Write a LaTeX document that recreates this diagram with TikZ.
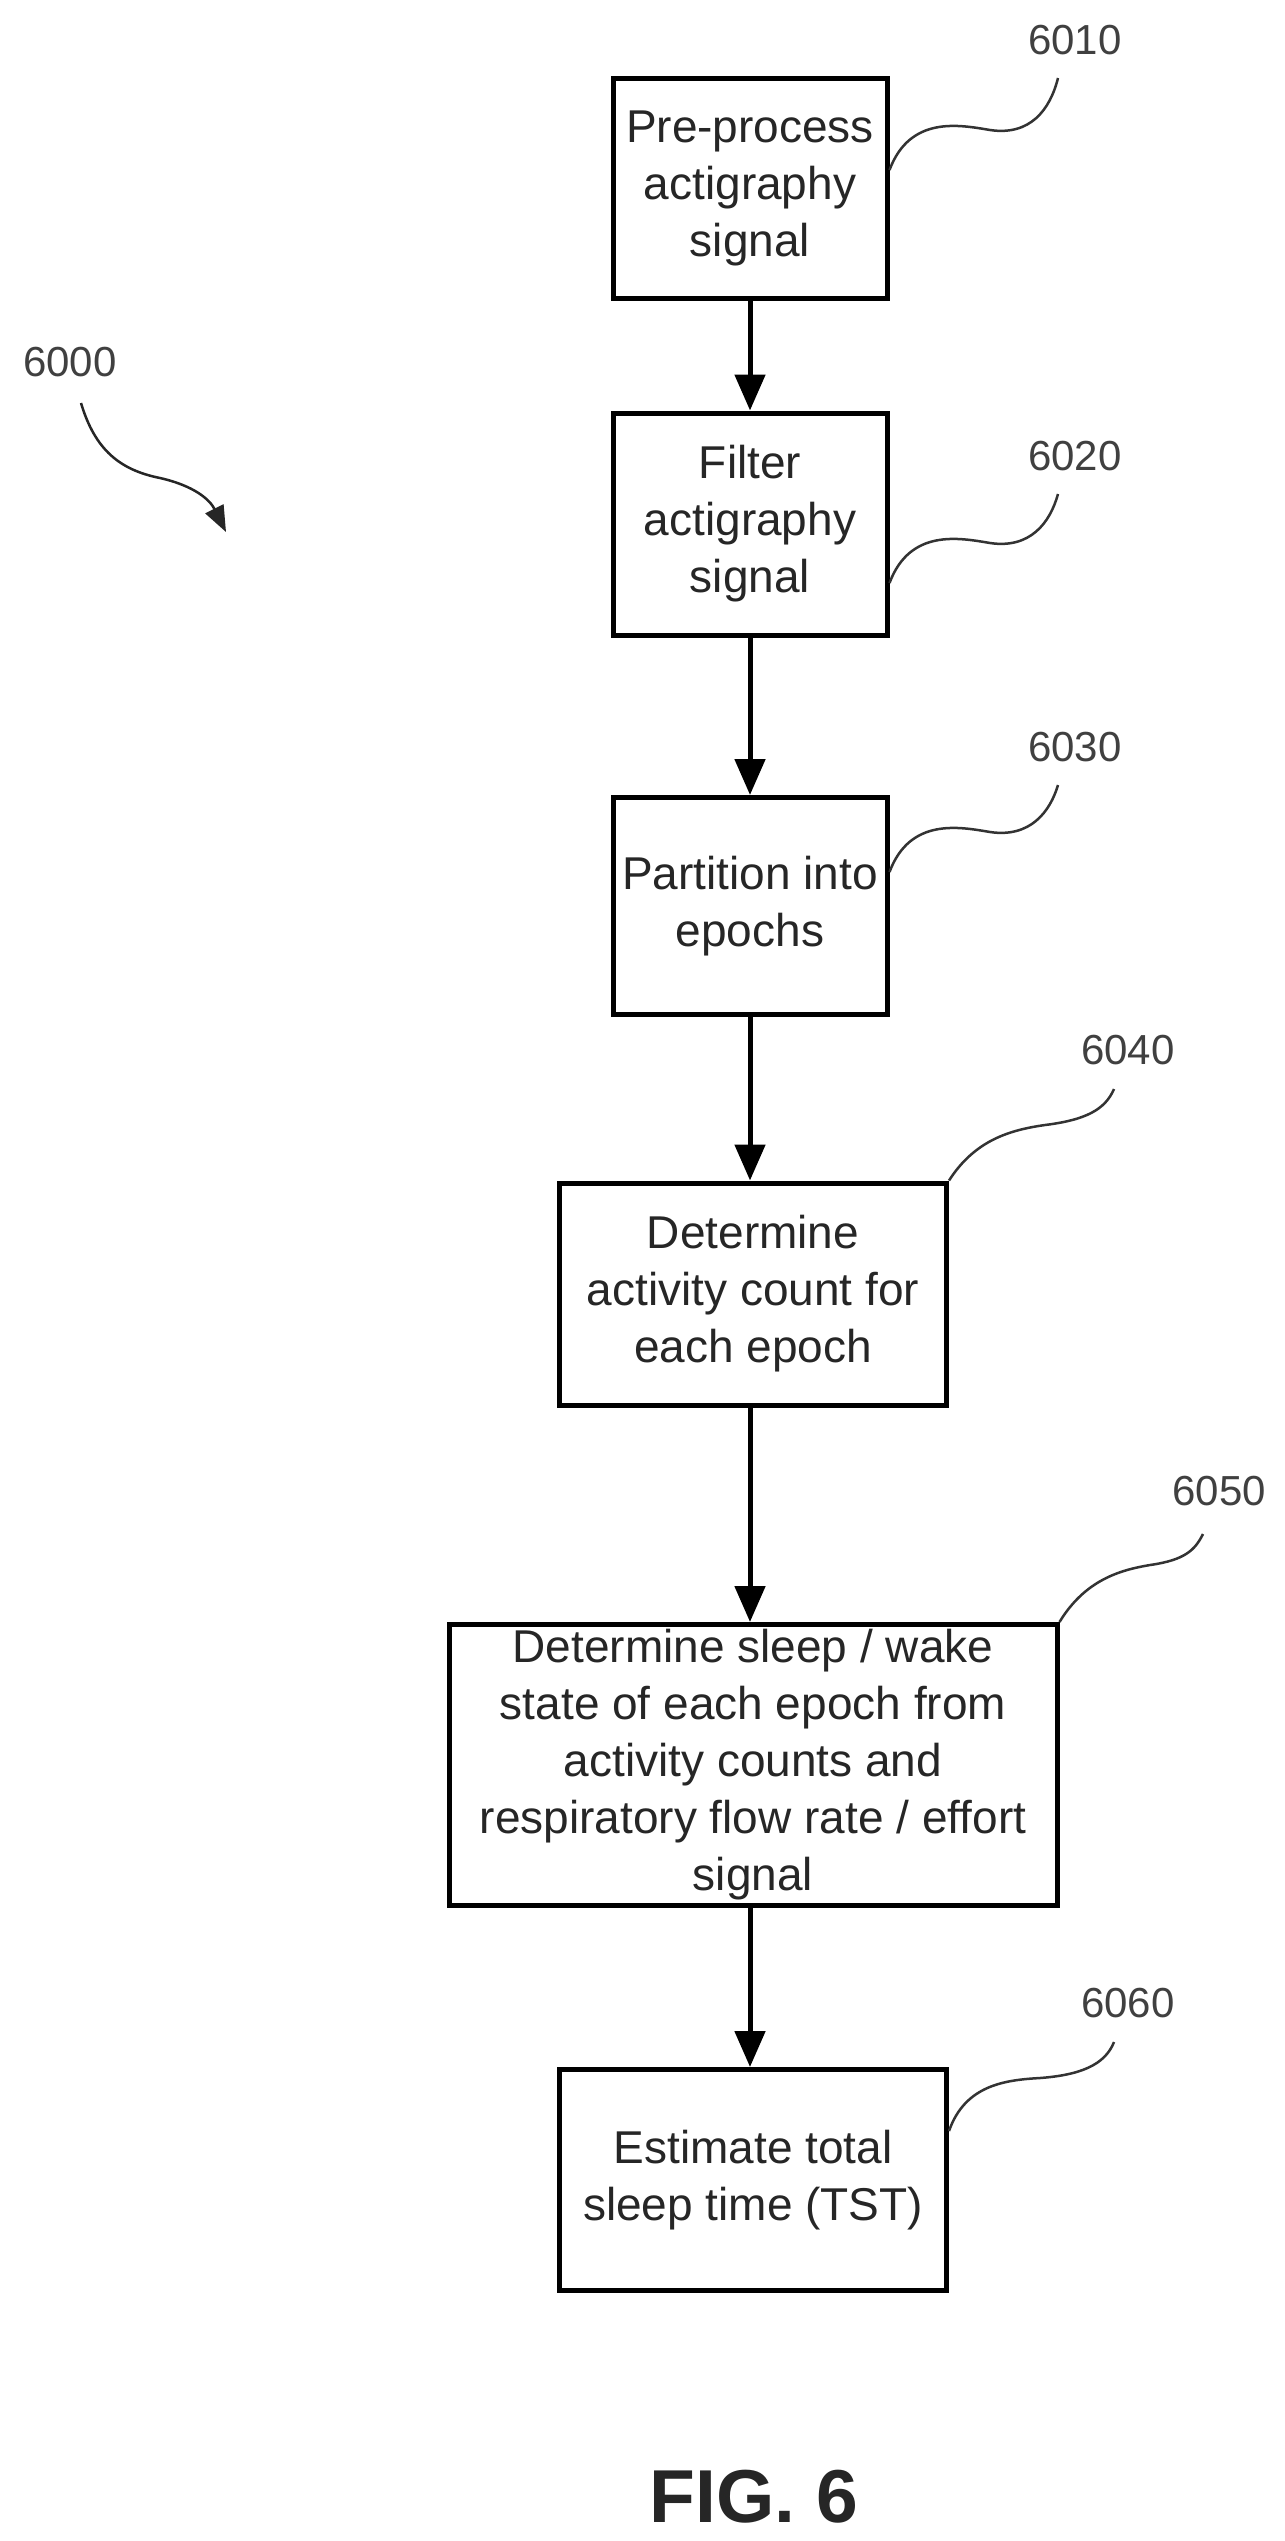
\documentclass[tikz,border=0pt]{standalone}
\usepackage{fontspec}
\setmainfont{Liberation Sans}
\usetikzlibrary{arrows.meta}
\begin{document}
\begin{tikzpicture}[x=1pt,y=-1pt,
  box/.style={draw=black,line width=5pt,inner sep=0pt,align=center,
    font=\fontsize{46}{57}\selectfont,text=black!85},
  flow/.style={line width=5pt,-{Triangle[length=36pt,width=30pt]}},
  lead/.style={line width=2.5pt,draw=black!80},
  num/.style={font=\fontsize{42}{50}\selectfont,text=black!75}]
\path[use as bounding box,fill=white] (0,0) rectangle (1285,2541);
\node[box,minimum width=274pt,minimum height=220pt] (b1) at (750,188) {Pre-process\\actigraphy\\signal};
\node[box,minimum width=274pt,minimum height=222pt] (b2) at (750,524) {Filter\\actigraphy\\signal};
\node[box,minimum width=274pt,minimum height=217pt] (b3) at (750,906) {Partition into\\epochs};
\node[box,minimum width=387pt,minimum height=222pt] (b4) at (753,1294) {Determine\\activity count for\\each epoch};
\node[box,minimum width=608pt,minimum height=281pt] (b5) at (753,1765) {Determine sleep / wake\\state of each epoch from\\activity counts and\\respiratory flow rate / effort\\signal};
\node[box,minimum width=387pt,minimum height=221pt] (b6) at (753,2180) {Estimate total\\sleep time (TST)};
\draw[flow] (b1.south -| 750,0) -- (b2.north -| 750,0);
\draw[flow] (b2.south -| 750,0) -- (b3.north -| 750,0);
\draw[flow] (b3.south -| 750,0) -- (b4.north -| 750,0);
\draw[flow] (b4.south -| 750,0) -- (b5.north -| 750,0);
\draw[flow] (b5.south -| 750,0) -- (b6.north -| 750,0);
\node[num] (n6010) at (1075,40) {6010};
\node[num] (n6020) at (1075,456) {6020};
\node[num] (n6030) at (1075,747) {6030};
\node[num] (n6040) at (1128,1050) {6040};
\node[num] (n6050) at (1219,1491) {6050};
\node[num] (n6060) at (1128,2003) {6060};
\node[num] (n6000) at (70,362) {6000};
\coordinate (e1) at (1058,78);
\coordinate (e2) at (1058,494);
\coordinate (e3) at (1058,785);
\coordinate (e4) at (1114,1089);
\coordinate (e5) at (1203,1534);
\coordinate (e6) at (1114,2042);
\draw[lead] (b1.east |- 0,170) .. controls (910,115) and (960,125) .. (990,130) .. controls (1030,136) and (1050,110) .. (e1);
\draw[lead] (b2.east |- 0,583) .. controls (910,528) and (960,538) .. (990,543) .. controls (1030,549) and (1050,523) .. (e2);
\draw[lead] (b3.east |- 0,872) .. controls (910,817) and (960,827) .. (990,832) .. controls (1030,838) and (1050,812) .. (e3);
\draw[lead] (b4.north east) .. controls (975,1140) and (1010,1130) .. (1045,1125) .. controls (1085,1120) and (1105,1110) .. (e4);
\draw[lead] (b5.north east) .. controls (1085,1580) and (1120,1570) .. (1150,1565) .. controls (1185,1560) and (1195,1550) .. (e5);
\draw[lead] (b6.east |- 0,2131) .. controls (965,2085) and (1005,2080) .. (1040,2078) .. controls (1080,2075) and (1105,2065) .. (e6);
\coordinate (a0) at (81,403);
\coordinate (a1) at (226,532);
\draw[line width=2.5pt,draw=black!85,-{Triangle[length=26pt,width=20pt]}] (a0) .. controls (95,450) and (120,470) .. (160,478) .. controls (195,486) and (210,500) .. (a1);
\node[font=\bfseries\fontsize{75}{80}\selectfont,text=black!85] (fig) at (754,2497) {FIG. 6};
\end{tikzpicture}
\end{document}
